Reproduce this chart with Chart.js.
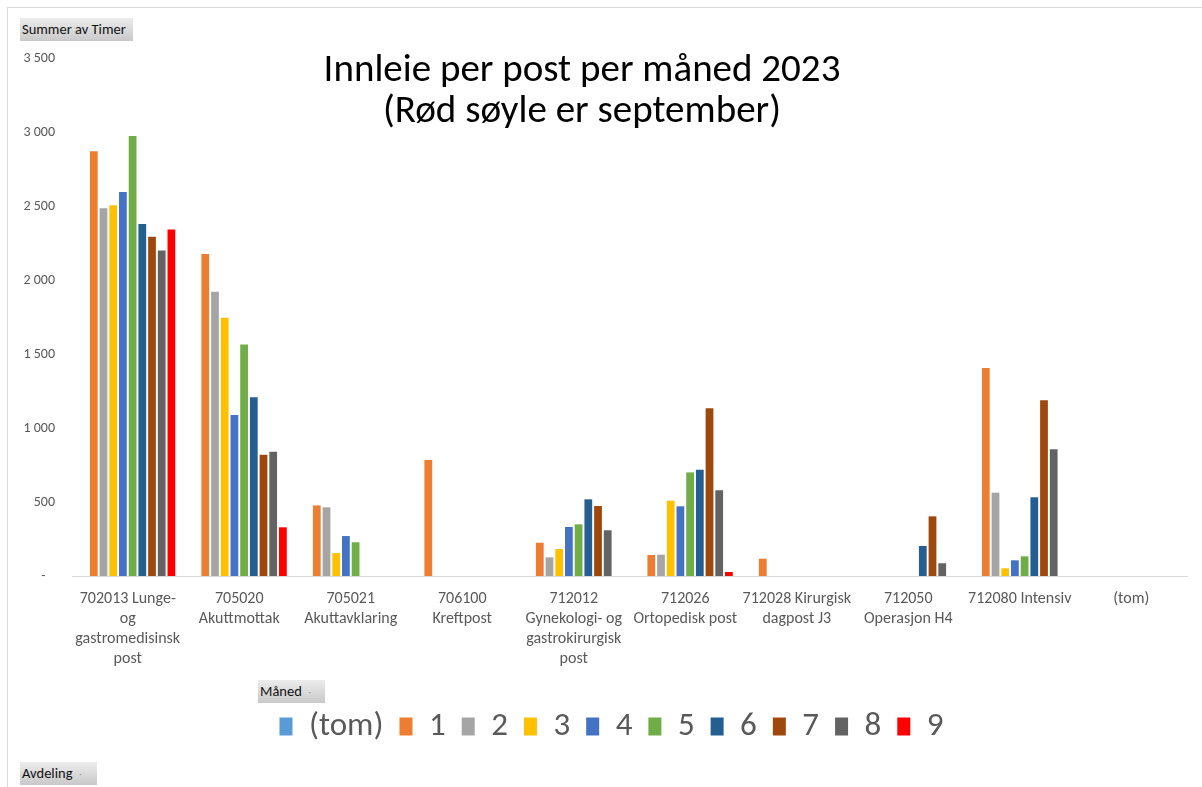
<!DOCTYPE html>
<html>
<head>
<meta charset="utf-8">
<title>Innleie per post per måned 2023</title>
<script src="https://cdn.jsdelivr.net/npm/chart.js@4.4.0/dist/chart.umd.min.js"></script>
<style>
    html, body { margin: 0; padding: 0; background: #fff; }
    body { width: 1202px; height: 787px; position: relative; overflow: hidden;
           font-family: Calibri, Carlito, Lato, sans-serif; }
    #frame { position: absolute; left: 7px; top: 7px; width: 1300px; height: 900px;
             border-left: 1px solid #d9d9d9; border-top: 1px solid #d9d9d9; }
    #chartWrap { position: absolute; left: 0; top: 0; width: 1202px; height: 787px; }
    .title { position: absolute; left: 232px; width: 700px; text-align: center;
             font-size: 39px; color: #000; line-height: 41px; top: 47px; }
    .field { position: absolute; height: 23px; line-height: 23px; font-size: 14.5px; color: #111;
             background: linear-gradient(#ececec, #c9c9c9); padding: 0 2px; box-sizing: border-box;
             white-space: nowrap; }
    .field .dd { font-size: 8px; color: #888; margin-left: 7px; vertical-align: middle; }
</style>
</head>
<body>
<div id="frame"></div>
<div id="chartWrap"><canvas id="postChart" width="1202" height="787"></canvas></div>
<div class="title">Innleie per post per måned 2023<br>(Rød søyle er september)</div>
<div class="field" style="left:20px; top:18px; width:113px;">Summer av Timer</div>
<div class="field" style="left:258px; top:680px; width:67px;">Måned<span class="dd">&#183;</span></div>
<div class="field" style="left:20px; top:762px; width:77px;">Avdeling<span class="dd">&#183;</span></div>

<script>
// Categories (Avdeling) - multi-line as wrapped in the original pivot chart
const posts = [
    ['702013 Lunge-', 'og', 'gastromedisinsk', 'post'],
    ['705020', 'Akuttmottak'],
    ['705021', 'Akuttavklaring'],
    ['706100', 'Kreftpost'],
    ['712012', 'Gynekologi- og', 'gastrokirurgisk', 'post'],
    ['712026', 'Ortopedisk post'],
    ['712028 Kirurgisk', 'dagpost J3'],
    ['712050', 'Operasjon H4'],
    ['712080 Intensiv'],
    ['(tom)']
];

// Series (Måned)
const monthLabels = ['(tom)', '1', '2', '3', '4', '5', '6', '7', '8', '9'];
const monthColors = ['#5B9BD5', '#ED7D31', '#A5A5A5', '#FFC000', '#4472C4',
                     '#70AD47', '#255E91', '#9E480E', '#636363', '#FF0000'];

// Hours per post, one array per month
const mTom = [null, null, null, null, null, null, null, null, null, null];
const m1 = [2870, 2175, 477, 784, 225, 142, 117, null, 1405, null];
const m2 = [2485, 1920, 464, null, 126, 144, null, null, 563, null];
const m3 = [2505, 1745, 155, null, 182, 509, null, null, 52, null];
const m4 = [2595, 1088, 270, null, 331, 471, null, null, 106, null];
const m5 = [2973, 1565, 228, null, 349, 700, null, null, 133, null];
const m6 = [2378, 1207, null, null, 518, 718, null, 203, 532, null];
const m7 = [2293, 820, null, null, 473, 1133, null, 403, 1187, null];
const m8 = [2200, 840, null, null, 309, 579, null, 86, 856, null];
const m9 = [2342, 329, null, null, null, 27, null, null, null, null];

// Y axis ticks
const yTicks = [0, 500, 1000, 1500, 2000, 2500, 3000, 3500];

(function() {
    'use strict';

    const FONT = 'Calibri, Carlito, Lato, sans-serif';
    const TEXT = '#595959';
    const series = [mTom, m1, m2, m3, m4, m5, m6, m7, m8, m9];

    function formatHours(value) {
        if (value === 0) return '-   ';
        return String(value).replace(/\B(?=(\d{3})+(?!\d))/g, ' ');
    }

    const datasets = series.map((data, i) => ({
        label: monthLabels[i],
        data: data,
        backgroundColor: monthColors[i],
        borderWidth: 0,
        barPercentage: 0.8,
        categoryPercentage: 0.87
    }));

    // Legend sits a little right of centre in the original
    const legendShift = {
        id: 'legendShift',
        afterLayout: function(chart) {
            if (!chart.legend) return;
            chart.legend.left += 18;
            chart.legend.right += 18;
        }
    };

    const ctx = document.getElementById('postChart');

    new Chart(ctx, {
        type: 'bar',
        data: { labels: posts, datasets: datasets },
        plugins: [legendShift],
        options: {
            responsive: false,
            animation: false,
            layout: { padding: { top: 58, left: 0, right: 15, bottom: 34 } },
            plugins: {
                title: { display: false },
                tooltip: { enabled: false },
                legend: {
                    position: 'bottom',
                    labels: {
                        color: TEXT,
                        font: { family: FONT, size: 33 },
                        boxWidth: 13,
                        boxHeight: 18,
                        padding: 16
                    }
                }
            },
            scales: {
                x: {
                    grid: { display: false, drawTicks: false },
                    border: { display: true, color: '#D9D9D9', width: 1 },
                    ticks: {
                        color: TEXT,
                        font: { family: FONT, size: 16, lineHeight: 1.25 },
                        padding: 13,
                        maxRotation: 0,
                        autoSkip: false
                    },
                    afterFit: function(scale) { scale.height = 118; }
                },
                y: {
                    min: 0,
                    max: 3500,
                    grid: { display: false, drawTicks: false },
                    border: { display: false },
                    afterBuildTicks: function(scale) {
                        scale.ticks = yTicks.map(v => ({ value: v }));
                    },
                    ticks: {
                        color: TEXT,
                        font: { family: FONT, size: 14 },
                        padding: 17,
                        callback: function(value) { return formatHours(value); }
                    },
                    afterFit: function(scale) { scale.width = 72; }
                }
            }
        }
    });
})();
</script>
</body>
</html>
